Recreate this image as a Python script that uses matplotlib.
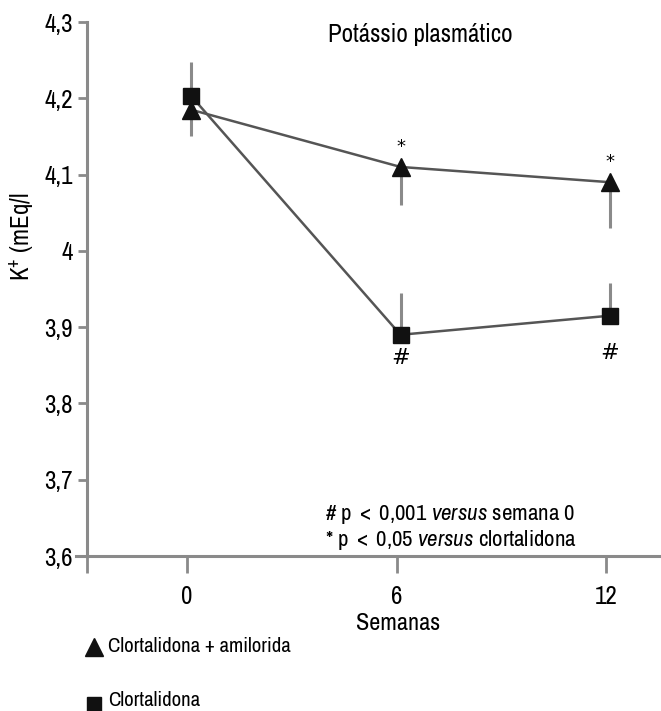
import matplotlib
matplotlib.use("Agg")
import matplotlib.pyplot as plt
import matplotlib.transforms as mtransforms
from matplotlib import font_manager
from matplotlib.lines import Line2D

names = {f.name for f in font_manager.fontManager.ttflist}
fam = next((n for n in ['Archivo Narrow', 'Barlow Semi Condensed', 'Roboto'] if n in names), 'DejaVu Sans')
plt.rcParams['font.family'] = [fam, 'DejaVu Sans']
plt.rcParams['mathtext.fontset'] = 'custom'
plt.rcParams['mathtext.rm'] = fam
plt.rcParams['mathtext.it'] = fam + ':italic'

weeks = [0, 6, 12]
tick_labels = ['0', '6', '12']
amil_vals = [4.185, 4.11, 4.09]
amil_err_down = [0.035, 0.05, 0.06]
clor_vals = [4.203, 3.89, 3.915]
clor_err_up = [0.045, 0.055, 0.043]
ytick_vals = [3.6, 3.7, 3.8, 3.9, 4.0, 4.1, 4.2, 4.3]
ytick_labels = ['3,6', '3,7', '3,8', '3,9', '4', '4,1', '4,2', '4,3']

W, H = 661, 711
fig = plt.figure(figsize=(W/100, H/100), dpi=100)
ax = fig.add_axes([87/W, 1-556/H, 1-87/W, (556-22)/H])
ax.set_xlim(-2.87, 13.58)
ax.set_ylim(3.6, 4.3)

off = mtransforms.offset_copy(ax.transData, fig=fig, x=4, y=0, units='dots')
gray = '#8a8a8a'
ax.errorbar(weeks, amil_vals, yerr=[amil_err_down, [0, 0, 0]], fmt='none',
            ecolor=gray, elinewidth=2.2, capsize=0, transform=off, zorder=2)
ax.errorbar(weeks, clor_vals, yerr=[[0, 0, 0], clor_err_up], fmt='none',
            ecolor=gray, elinewidth=2.2, capsize=0, transform=off, zorder=2)
ax.plot(weeks, amil_vals, color='#555555', lw=1.8, transform=off, zorder=3)
ax.plot(weeks, clor_vals, color='#555555', lw=1.8, transform=off, zorder=3)
ax.plot(weeks, clor_vals, ls='none', marker='s', ms=11, color='#111111', transform=off, zorder=4)
ax.plot(weeks, amil_vals, ls='none', marker='^', ms=13, color='#111111', transform=off, zorder=5)

star_off = {6: 8, 12: 8}
hash_off = {6: -9.5, 12: -20}
for w in [6, 12]:
    i = weeks.index(w)
    ax.annotate('*', (w, amil_vals[i]), xycoords=off, xytext=(0, star_off[w]), textcoords='offset points',
                ha='center', va='bottom', fontsize=13, family='DejaVu Sans')
    ax.annotate('#', (w, clor_vals[i]), xycoords=off, xytext=(0, hash_off[w]), textcoords='offset points',
                ha='center', va='top', fontsize=16, family='DejaVu Sans')

for s in ['top', 'right']:
    ax.spines[s].set_visible(False)
for s in ['left', 'bottom']:
    ax.spines[s].set_color(gray)
    ax.spines[s].set_linewidth(2.2)
ax.add_line(Line2D([-0.02, 0], [0, 0], transform=ax.transAxes, color=gray, lw=2.2, clip_on=False))

ax.set_yticks(ytick_vals)
ax.set_yticklabels(ytick_labels, fontsize=18)
ax.set_xticks([-2.87] + weeks)
ax.set_xticklabels([''] + tick_labels, fontsize=18)
ax.tick_params(axis='y', direction='out', length=6.5, width=2, color=gray, pad=3.5)
ax.tick_params(axis='x', direction='out', length=12, width=2, color=gray, pad=9)

fig.text(398/W, 1-623/H, 'Semanas', fontsize=17.5, ha='center', va='center')
fig.text(22/W, 1-237/H, 'K$^{+}$ (mEq/l', rotation=90, ha='center', va='center', fontsize=18)
fig.text(328/W, 1-35/H, 'Potássio plasmático', fontsize=18, ha='left', va='center')

fig.text(325/W, 1-515/H, '# p $<$ 0,001 $\\mathit{versus}$ semana 0', fontsize=16.5, ha='left', va='center')
fig.text(325/W, 1-540/H, '* p $<$ 0,05 $\\mathit{versus}$ clortalidona', fontsize=16.5, ha='left', va='center')

fig.add_artist(Line2D([94/W], [1-647/H], marker='^', ms=13, color='#111111', ls='none'))
fig.text(108/W, 1-646/H, 'Clortalidona + amilorida', fontsize=15, ha='left', va='center')
fig.add_artist(Line2D([94/W], [1-704/H], marker='s', ms=10, color='#111111', ls='none'))
fig.text(108/W, 1-701/H, 'Clortalidona', fontsize=15, ha='left', va='center')

fig.savefig('out.png', dpi=100, facecolor='white')
